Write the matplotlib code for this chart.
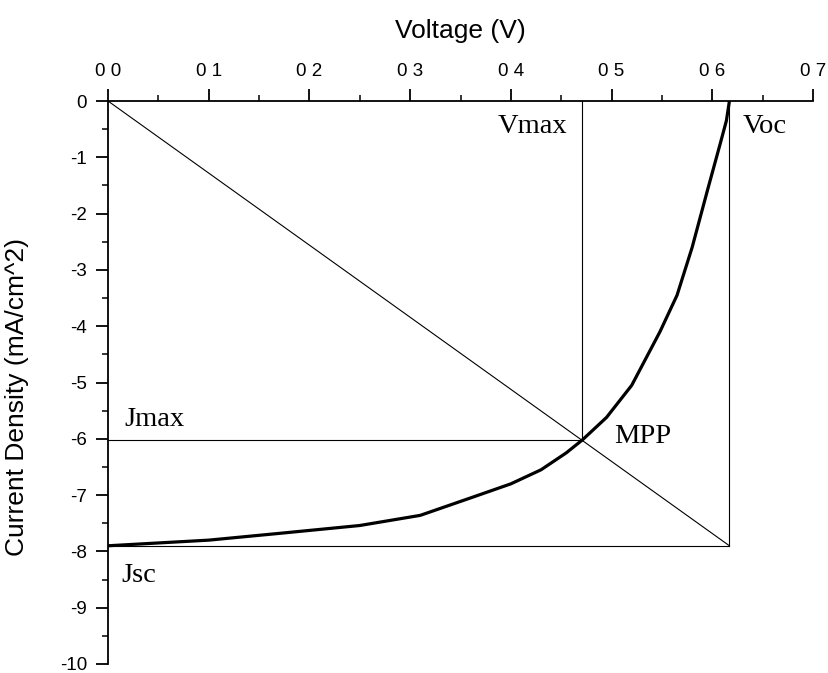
import matplotlib
matplotlib.use("Agg")
import matplotlib.pyplot as plt
from matplotlib.ticker import MultipleLocator

plt.rcParams['axes.unicode_minus'] = False

# J-V curve data
voltage = [0.0, 0.04, 0.10, 0.17, 0.25, 0.31, 0.36, 0.40, 0.43, 0.455, 0.471,
           0.495, 0.52, 0.548, 0.565, 0.58, 0.595, 0.608, 0.614, 0.617]
current = [-7.90, -7.86, -7.80, -7.68, -7.54, -7.36, -7.05, -6.80, -6.55, -6.25,
           -6.02, -5.62, -5.05, -4.10, -3.45, -2.60, -1.60, -0.75, -0.35, 0.0]

v_max = 0.471
j_max = -6.02
v_oc = 0.617
j_sc = -7.90

x_ticks = [0.0, 0.1, 0.2, 0.3, 0.4, 0.5, 0.6, 0.7]
x_tick_labels = ["0 0", "0 1", "0 2", "0 3", "0 4", "0 5", "0 6", "0 7"]
y_ticks = [0, -1, -2, -3, -4, -5, -6, -7, -8, -9, -10]
y_tick_labels = ["0", "-1", "-2", "-3", "-4", "-5", "-6", "-7", "-8", "-9", "-10"]

fig = plt.figure(figsize=(8.29, 6.73), dpi=100)
ax = fig.add_axes([108/829, 1 - 664/673, (813 - 108)/829, (664 - 101)/673])

thin = dict(color='black', linewidth=0.8)
# reference lines
ax.plot([0, v_oc], [0, j_sc], **thin)            # diagonal
ax.plot([v_max, v_max], [0, j_max], **thin)      # Vmax vertical
ax.plot([0, v_max], [j_max, j_max], **thin)      # Jmax horizontal
ax.plot([v_oc, v_oc], [0, j_sc], **thin)         # Voc vertical
ax.plot([0, v_oc], [j_sc, j_sc], **thin)         # Jsc horizontal

# J-V curve
ax.plot(voltage, current, color='black', linewidth=2.3, solid_capstyle='round',
        solid_joinstyle='round')

ax.set_xlim(0, 0.7)
ax.set_ylim(-10, 0)
ax.xaxis.tick_top()
ax.xaxis.set_label_position('top')
ax.spines['right'].set_visible(False)
ax.spines['bottom'].set_visible(False)
for s in ('left', 'top'):
    ax.spines[s].set_linewidth(1.3)

ax.set_xticks(x_ticks)
ax.set_xticklabels(x_tick_labels)
ax.set_yticks(y_ticks)
ax.set_yticklabels(y_tick_labels)
ax.xaxis.set_minor_locator(MultipleLocator(0.05))
ax.yaxis.set_minor_locator(MultipleLocator(0.5))
ax.tick_params(which='major', direction='out', length=9, width=1.3,
               labelsize=13.5, pad=6)
ax.tick_params(which='minor', direction='out', length=4.3, width=1.1)
for lab in ax.get_xticklabels() + ax.get_yticklabels():
    lab.set_family(['Liberation Sans', 'DejaVu Sans'])

ax.set_xlabel('Voltage (V)', fontsize=19, family=['Liberation Sans'], labelpad=18)
ax.set_ylabel('Current Density (mA/cm^2)', fontsize=19, family=['Liberation Sans'],
              labelpad=6)
ax.yaxis.set_label_coords(-0.112, 0.475)

serif = dict(family=['Liberation Serif', 'DejaVu Serif'], fontsize=20.5, va='baseline')
ax.text(0.456, -0.57, 'Vmax', ha='right', **serif)
ax.text(0.630, -0.57, 'Voc', ha='left', **serif)
ax.text(0.503, -6.07, 'MPP', ha='left', **serif)
ax.text(0.016, -5.77, 'Jmax', ha='left', **serif)
ax.text(0.013, -8.55, 'Jsc', ha='left', **serif)

fig.savefig('out.png', dpi=100, facecolor='white')
